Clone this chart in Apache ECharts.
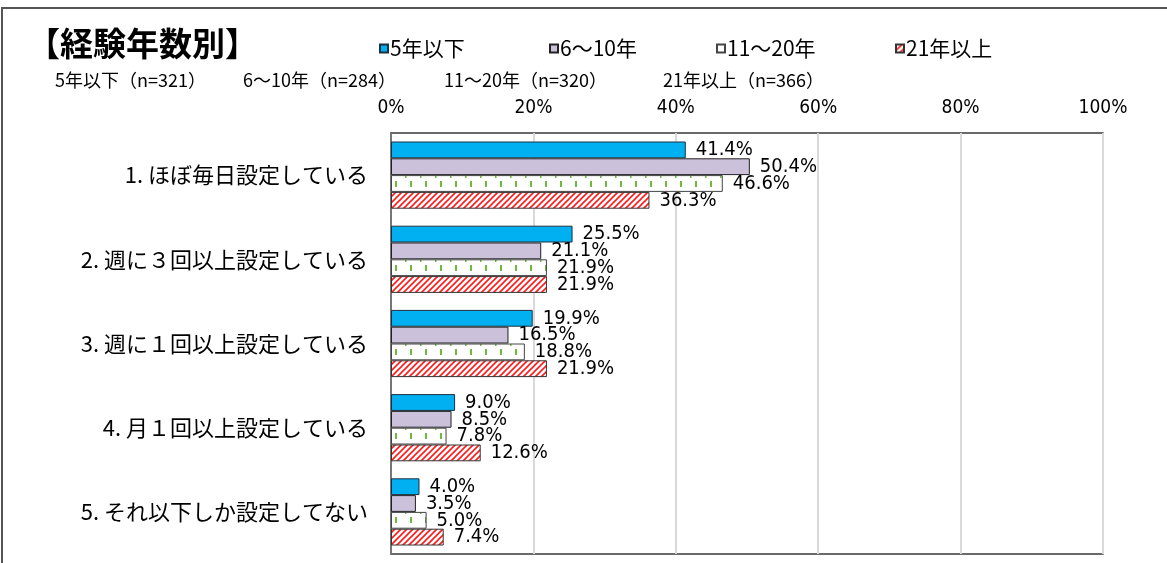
<!DOCTYPE html>
<html>
<head>
<meta charset="utf-8">
<script src="https://cdn.jsdelivr.net/npm/echarts@6/dist/echarts.min.js"></script>
<style>
  html, body { margin: 0; padding: 0; background: #fff; }
  #main { width: 1167px; height: 563px; }
</style>
</head>
<body>
<div id="main"></div>
<script>
  // データ
  var categories = [
    '1. ほぼ毎日設定している',
    '2. 週に３回以上設定している',
    '3. 週に１回以上設定している',
    '4. 月１回以上設定している',
    '5. それ以下しか設定してない'
  ];
  var seriesNames = ['5年以下', '6～10年', '11～20年', '21年以上'];
  var under5 = [41.4, 25.5, 19.9, 9.0, 4.0];
  var y6to10 = [50.4, 21.1, 16.5, 8.5, 3.5];
  var y11to20 = [46.6, 21.9, 18.8, 7.8, 5.0];
  var over21 = [36.3, 21.9, 21.9, 12.6, 7.4];
  var sampleNotes = ['5年以下（n=321）', '6～10年（n=284）', '11～20年（n=320）', '21年以上（n=366）'];

  var numFont = "'Liberation Sans Narrow', 'DejaVu Sans Condensed', 'Noto Sans CJK JP', sans-serif";
  var jpFont = "'Noto Sans CJK JP', sans-serif";

  // 緑の縦線パターン
  function greenPattern() {
    var c = document.createElement('canvas');
    c.width = 15; c.height = 84;
    var ctx = c.getContext('2d');
    ctx.fillStyle = '#fff';
    ctx.fillRect(0, 0, 15, 84);
    ctx.fillStyle = '#6dbb3c';
    ctx.fillRect(0, 7, 1.5, 3);
    ctx.fillRect(5, 13, 2, 6);
    return c;
  }
  // 赤の斜線パターン
  function redPattern() {
    var c = document.createElement('canvas');
    c.width = 6; c.height = 6;
    var ctx = c.getContext('2d');
    ctx.fillStyle = '#fff';
    ctx.fillRect(0, 0, 6, 6);
    ctx.strokeStyle = '#ff1a1a';
    ctx.lineWidth = 1.6;
    ctx.beginPath();
    ctx.moveTo(-1, 7); ctx.lineTo(7, -1);
    ctx.moveTo(-4, 4); ctx.lineTo(4, -4);
    ctx.moveTo(2, 10); ctx.lineTo(10, 2);
    ctx.stroke();
    return c;
  }

  var styles = [
    { color: '#00b0f0', borderColor: '#1d3040', borderWidth: 1 },
    { color: '#ccc1da', borderColor: '#222', borderWidth: 1 },
    { color: { image: greenPattern(), repeat: 'repeat' }, borderColor: '#444', borderWidth: 1 },
    { color: { image: redPattern(), repeat: 'repeat' }, borderColor: '#333', borderWidth: 1 }
  ];
  var values = [under5, y6to10, y11to20, over21];
  var legendLeft = [374, 544, 711, 890];
  var noteLeft = [55, 243, 444, 663];

  var graphics = [{
    type: 'rect', silent: true,
    shape: { x: 2, y: 8, width: 1200, height: 600 },
    style: { fill: 'none', stroke: '#555', lineWidth: 2 }
  }];
  sampleNotes.forEach(function (t, i) {
    graphics.push({
      type: 'text', left: noteLeft[i], top: 71,
      style: { text: t, font: '18px ' + jpFont, fill: '#000' }
    });
  });

  var chart = echarts.init(document.getElementById('main'));
  chart.setOption({
    animation: false,
    backgroundColor: '#fff',
    title: {
      text: '【経験年数別】',
      left: 22, top: 22,
      textStyle: { fontFamily: jpFont, fontSize: 33, fontWeight: 'bold', color: '#000' }
    },
    legend: seriesNames.map(function (n, i) {
      return {
        data: [n],
        left: legendLeft[i], top: 33,
        itemWidth: 8, itemHeight: 8, itemGap: 0,
        icon: 'rect',
        textStyle: { fontFamily: jpFont, fontSize: 21, color: '#000', padding: [0, 0, 0, -3] },
        selectedMode: false
      };
    }),
    graphic: graphics,
    grid: {
      left: 391, right: 64, top: 133, bottom: 9,
      show: true, borderColor: '#3a3a3a', borderWidth: 1.5
    },
    xAxis: {
      type: 'value', position: 'top',
      min: 0, max: 100, interval: 20,
      axisLine: { show: false },
      axisTick: { show: false },
      axisLabel: {
        formatter: '{value}%', margin: 15,
        fontFamily: numFont, fontSize: 19, color: '#000'
      },
      splitLine: { lineStyle: { color: '#d9d9d9', width: 2 } }
    },
    yAxis: {
      type: 'category', inverse: true,
      data: categories,
      axisLine: { show: true, lineStyle: { color: '#555', width: 1.5 } },
      axisTick: { show: false },
      axisLabel: { margin: 23, fontFamily: jpFont, fontSize: 22, color: '#000' }
    },
    series: seriesNames.map(function (n, i) {
      return {
        name: n, type: 'bar',
        data: values[i],
        barWidth: 16.8, barGap: '0%',
        itemStyle: styles[i],
        label: {
          show: true, position: 'right', distance: 10,
          formatter: function (p) { return p.value.toFixed(1) + '%'; },
          fontFamily: numFont, fontSize: 20, color: '#000'
        }
      };
    })
  });
</script>
</body>
</html>
